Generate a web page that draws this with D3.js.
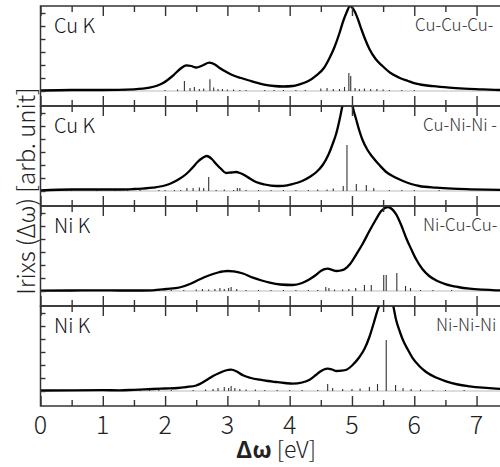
<!DOCTYPE html>
<html>
<head>
<meta charset="utf-8">
<script src="https://cdn.jsdelivr.net/npm/d3@7"></script>
<style>
  body { margin: 0; background: #fff; }
  svg { display: block; font-family: "Noto Sans CJK JP", "Noto Sans", sans-serif; font-weight: 300; }
</style>
</head>
<body>
<div id="chart"></div>
<script>
// energy loss ticks [eV]
const xTickLabels = [0, 1, 2, 3, 4, 5, 6, 7];
const edgeNames = ['Cu K', 'Cu K', 'Ni K', 'Ni K'];
const clusterNames = ['Cu-Cu-Cu-', 'Cu-Ni-Ni -', 'Ni-Cu-Cu-', 'Ni-Ni-Ni'];

// broadened spectra: [energy eV, intensity arb.]
const curveCuCuCu = [[0,0.5],[0.5,1],[1.0,1],[1.5,1.7],[1.75,3.3],[1.96,7.7],[2.12,15],[2.26,23],[2.34,25.7],[2.42,25],[2.5,23.5],[2.6,25.5],[2.71,28.3],[2.8,26.5],[2.87,23.3],[3.0,18.5],[3.09,15.7],[3.22,13],[3.35,10.5],[3.57,6.7],[3.75,5],[3.89,4.5],[4.05,5],[4.16,6.7],[4.3,10],[4.43,15.7],[4.55,23],[4.64,33],[4.72,44],[4.80,58],[4.86,70],[4.91,78],[4.97,85],[5.04,80],[5.1,71],[5.15,62],[5.21,52],[5.28,42],[5.38,32],[5.49,25],[5.62,18],[5.76,13.3],[5.9,10],[6.03,7.3],[6.3,4.8],[6.56,3.3],[6.8,2.4],[7.10,1.7],[7.37,1],[7.5,0.9]];
const curveCuNiNi = [[0,0.5],[0.5,1.5],[1.0,1.5],[1.27,1.5],[1.5,2],[1.8,3.3],[2.07,7],[2.2,11],[2.34,17],[2.45,24],[2.52,29],[2.6,33],[2.67,35],[2.75,32],[2.82,27],[2.9,22],[2.98,18],[3.06,18.5],[3.14,19],[3.2,18],[3.27,16],[3.36,12.5],[3.46,9],[3.6,6.5],[3.78,5],[3.9,5.2],[4.05,7],[4.2,10],[4.32,14],[4.43,19],[4.53,26],[4.62,36],[4.69,47],[4.75,58],[4.80,71],[4.85,86],[4.9,98],[4.94,102],[4.98,96],[5.01,85],[5.07,71],[5.12,60],[5.17,51],[5.25,41],[5.33,34],[5.44,26],[5.55,19],[5.68,14],[5.82,10],[5.95,7],[6.08,5],[6.35,3.3],[6.61,2.3],[6.9,1.7],[7.15,1.3],[7.5,1]];
const curveNiCuCu = [[0,0.3],[0.5,0.5],[1.0,0.7],[1.27,0.5],[1.5,0.5],[1.8,0.7],[2.02,2],[2.23,3.5],[2.4,7],[2.55,11.5],[2.7,15.5],[2.85,18.5],[3.0,20],[3.1,19.7],[3.25,17.5],[3.41,13.3],[3.55,10.5],[3.68,8.3],[3.85,6.5],[4.05,6],[4.2,8],[4.32,11.7],[4.42,16],[4.5,20],[4.56,21.8],[4.61,22.3],[4.68,21.2],[4.75,20],[4.82,20.5],[4.88,21.7],[4.97,27],[5.07,36.7],[5.17,47],[5.28,60],[5.38,71],[5.47,80],[5.53,83],[5.58,84],[5.64,82],[5.71,76.7],[5.79,66],[5.87,53],[5.95,42],[6.03,31.7],[6.13,22],[6.24,15],[6.37,10],[6.51,6.7],[6.7,4],[6.89,2.3],[7.1,1.3],[7.31,0.7],[7.5,0.5]];
const curveNiNiNi = [[0,0.5],[0.5,0.7],[1.0,0.8],[1.27,0.7],[1.5,1.2],[1.8,2],[2.0,2.5],[2.2,3],[2.34,4],[2.5,5.5],[2.66,10.7],[2.77,15],[2.87,18],[2.97,20.5],[3.06,21.3],[3.15,19.5],[3.25,15.7],[3.38,13],[3.52,11.3],[3.65,10],[3.78,9],[3.92,8],[4.05,7.3],[4.2,8.5],[4.32,11.3],[4.42,16],[4.48,19],[4.55,21.5],[4.61,22.3],[4.68,21.5],[4.75,20],[4.83,20.3],[4.91,21.3],[5.01,26],[5.12,34],[5.2,42],[5.28,54],[5.35,68],[5.41,80.7],[5.44,86],[5.5,100],[5.55,105],[5.6,100],[5.66,86],[5.71,70.7],[5.77,59],[5.82,50.7],[5.9,41],[5.98,32.3],[6.08,25],[6.19,19],[6.35,13.5],[6.51,9.7],[6.7,6.5],[6.89,4.7],[7.1,3.3],[7.31,2.3],[7.5,1.8]];

// discrete transitions: [energy eV, weight]
const sticksCuCuCu = [[0.3,1],[0.5,1],[0.95,1],[1.35,0.8],[2.0,1],[2.2,1.5],[2.31,10],[2.4,3],[2.47,4],[2.55,2],[2.62,2.5],[2.72,11.7],[2.78,3.5],[2.85,2],[2.92,2],[3.0,1.5],[3.1,1.5],[3.2,1],[3.3,1],[3.6,1],[3.75,1],[3.9,1],[4.1,1],[4.25,1],[4.5,2.5],[4.6,3],[4.7,2],[4.8,2],[4.88,4],[4.95,18],[4.98,15],[5.05,3],[5.12,2],[5.2,2.5],[5.3,2],[5.4,2],[5.5,1.5],[5.6,1],[5.8,1],[6.0,1]];
const sticksCuNiNi = [[0.5,1],[0.9,1],[1.2,1],[1.4,1],[1.6,1],[1.9,1],[2.0,1],[2.15,1],[2.25,1],[2.35,3],[2.45,3],[2.55,3.5],[2.62,3],[2.7,14],[2.82,1],[2.95,1.5],[3.1,1],[3.16,3],[3.2,3],[3.3,1],[3.5,1],[3.7,1],[3.9,1],[4.1,1],[4.3,1],[4.45,1.5],[4.6,1.5],[4.7,2.5],[4.86,5],[4.92,46],[5.07,7],[5.23,6],[5.35,3],[5.6,1],[5.8,1],[6.0,1],[6.4,1]];
const sticksNiCuCu = [[0.2,0.8],[0.5,0.8],[0.9,0.8],[1.3,0.8],[1.6,0.8],[1.9,1],[2.1,1],[2.3,1],[2.5,1.5],[2.6,2],[2.7,1.5],[2.8,2],[2.88,3],[2.95,2],[3.02,3],[3.06,4],[3.15,2],[3.3,1],[3.5,1],[3.7,1],[3.9,1],[4.1,1],[4.3,1],[4.45,1],[4.58,4],[4.63,3],[4.72,1.5],[4.85,1.5],[4.95,2],[5.06,3],[5.2,6],[5.31,6],[5.51,16],[5.55,16],[5.72,18],[5.86,5],[5.94,3],[6.1,1],[6.3,1],[6.6,1]];
const sticksNiNiNi = [[0.3,0.8],[0.6,0.8],[1.0,0.8],[1.5,1],[1.6,1],[1.75,1],[1.9,1],[2.1,1],[2.45,1],[2.65,1.5],[2.77,2],[2.85,3],[2.95,4],[3.02,3],[3.06,5],[3.12,3],[3.2,2],[3.3,1.5],[3.45,1.5],[3.6,1],[3.8,1],[4.0,1],[4.2,1],[4.45,1],[4.61,7],[4.69,3],[4.85,2],[5.0,2],[5.13,2.5],[5.28,4],[5.41,7],[5.55,51],[5.7,6],[5.82,3],[5.95,2],[6.1,1.5],[6.3,1],[6.5,1],[6.8,1]];

const curves = [curveCuCuCu, curveCuNiNi, curveNiCuCu, curveNiNiNi];
const sticks = [sticksCuCuCu, sticksCuNiNi, sticksNiCuCu, sticksNiNiNi];

const W = 500, H = 467;
const panelTop = 6, panelH = 100, baseOff = 85;

const svg = d3.select('#chart').append('svg')
  .attr('width', W)
  .attr('height', H);

svg.append('rect').attr('width', W).attr('height', H).attr('fill', '#fff');

const x = d3.scaleLinear().domain([0, 7.5]).range([40.5, 507.7]);
const majorTicks = d3.range(0, 7.51, 1);
const minorTicks = d3.range(0.5, 7.5, 1);
const yTicks = [0, 13, 26, 39, 52, 65, 78];

curves.forEach((curve, i) => {
  const top = panelTop + i * panelH;
  const y = d3.scaleLinear().domain([0, 85]).range([top + baseOff, top]);
  const g = svg.append('g');

  g.append('clipPath').attr('id', 'clip' + i)
    .append('rect')
    .attr('x', x(0)).attr('y', top)
    .attr('width', x(7.5) - x(0)).attr('height', panelH);

  const inner = g.append('g').attr('clip-path', `url(#clip${i})`);

  // zero line
  inner.append('line')
    .attr('x1', x(0)).attr('x2', x(7.5))
    .attr('y1', y(0)).attr('y2', y(0))
    .attr('stroke', '#aaa').attr('stroke-width', 0.8);

  inner.selectAll('line.stick')
    .data(sticks[i])
    .enter().append('line')
    .attr('class', 'stick')
    .attr('x1', d => x(d[0])).attr('x2', d => x(d[0]))
    .attr('y1', y(0)).attr('y2', d => y(d[1]))
    .attr('stroke', '#333').attr('stroke-width', 1.1);

  const line = d3.line()
    .x(d => x(d[0]))
    .y(d => y(d[1]))
    .curve(d3.curveMonotoneX);

  inner.append('path')
    .datum(curve)
    .attr('d', line)
    .attr('fill', 'none')
    .attr('stroke', '#000')
    .attr('stroke-width', 2.3);

  // frame ticks, pointing inwards
  const tickStyle = sel => {
    sel.select('.domain').remove();
    sel.selectAll('text').remove();
    sel.selectAll('line').attr('stroke', '#333').attr('stroke-width', 1.4);
  };
  g.append('g').attr('transform', `translate(0,${top})`)
    .call(d3.axisBottom(x).tickValues(majorTicks).tickSize(10)).call(tickStyle);
  g.append('g').attr('transform', `translate(0,${top})`)
    .call(d3.axisBottom(x).tickValues(minorTicks).tickSize(6)).call(tickStyle);
  g.append('g').attr('transform', `translate(0,${top + panelH})`)
    .call(d3.axisTop(x).tickValues(majorTicks).tickSize(10)).call(tickStyle);
  g.append('g').attr('transform', `translate(0,${top + panelH})`)
    .call(d3.axisTop(x).tickValues(minorTicks).tickSize(6)).call(tickStyle);
  g.append('g').attr('transform', `translate(${x(0)},0)`)
    .call(d3.axisRight(y).tickValues(yTicks).tickSize(5)).call(tickStyle);
  g.append('g').attr('transform', `translate(${x(7.5)},0)`)
    .call(d3.axisLeft(y).tickValues(yTicks).tickSize(5)).call(tickStyle);

  g.append('rect')
    .attr('x', x(0)).attr('y', top)
    .attr('width', x(7.5) - x(0)).attr('height', panelH)
    .attr('fill', 'none').attr('stroke', '#333').attr('stroke-width', 1.5);

  g.append('text')
    .attr('x', 54).attr('y', top + 27)
    .attr('font-size', 20).attr('fill', '#111')
    .text(edgeNames[i]);

  g.append('text')
    .attr('x', i === 3 ? 436 : (i === 0 ? 415 : 423)).attr('y', top + 25)
    .attr('font-size', 17).attr('fill', '#333')
    .text(clusterNames[i]);
});

// x tick labels
svg.append('g').selectAll('text')
  .data(xTickLabels)
  .enter().append('text')
  .attr('x', d => x(d))
  .attr('y', 434)
  .attr('text-anchor', 'middle')
  .attr('font-size', 25)
  .attr('fill', '#222')
  .text(d => d);

const xTitle = svg.append('text')
  .attr('x', 276).attr('y', 458)
  .attr('text-anchor', 'middle')
  .attr('font-size', 23)
  .attr('fill', '#222');
xTitle.append('tspan').attr('font-weight', 'bold').text('Δω');
xTitle.append('tspan').text(' [eV]');

svg.append('text')
  .attr('transform', 'translate(35,191) rotate(-90)')
  .attr('text-anchor', 'middle')
  .attr('font-size', 24)
  .attr('fill', '#222')
  .text('Irixs (Δω) [arb. unit]');
</script>
</body>
</html>
